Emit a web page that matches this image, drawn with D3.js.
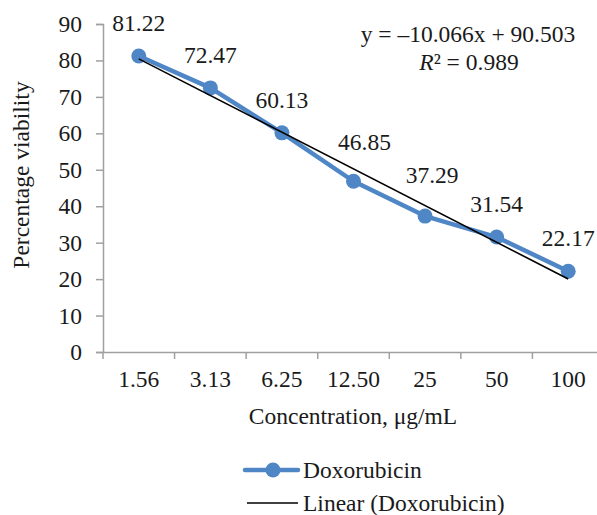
<!DOCTYPE html>
<html>
<head>
<meta charset="utf-8">
<script src="https://cdn.jsdelivr.net/npm/d3@7"></script>
<style>
  html, body { margin: 0; padding: 0; background: #fff; }
  svg text { font-family: "Liberation Serif", "Times New Roman", serif; }
</style>
</head>
<body>
<svg id="chart" width="597" height="515"></svg>
<script>
// Cell viability of Doxorubicin across concentrations
const concentrations = ["1.56", "3.13", "6.25", "12.50", "25", "50", "100"];
const viability = [81.22, 72.47, 60.13, 46.85, 37.29, 31.54, 22.17];
const yTicks = [0, 10, 20, 30, 40, 50, 60, 70, 80, 90];
const trendSlope = -10.066;
const trendIntercept = 90.503;
const rSquared = 0.989;

const blue = "#4f86c6";
const axisGray = "#a0a0a0";
const textColor = "#1a1a1a";
const fontSize = 23.5;
const serif = "'Liberation Serif', 'Times New Roman', serif";

const svg = d3.select("#chart");
const plot = { left: 103, right: 604, top: 24, bottom: 352 };

const x = d3.scaleBand().domain(concentrations).range([plot.left, plot.right]);
const y = d3.scaleLinear().domain([0, 90]).range([plot.bottom, plot.top]);
const cx = c => x(c) + x.bandwidth() / 2;

const styleText = sel => sel
  .style("font-family", serif)
  .style("font-size", fontSize + "px")
  .attr("fill", textColor);

// Y axis
const yAxis = svg.append("g")
  .attr("transform", `translate(${plot.left},0)`)
  .call(d3.axisLeft(y).tickValues(yTicks).tickSize(7).tickPadding(14));
yAxis.select(".domain").attr("stroke", axisGray).attr("stroke-width", 1.5);
yAxis.selectAll(".tick line").attr("stroke", axisGray).attr("stroke-width", 1.5);
yAxis.selectAll(".tick text").call(styleText);

// X axis: ticks sit on category boundaries
const xAxis = svg.append("g")
  .attr("transform", `translate(0,${plot.bottom})`)
  .call(d3.axisBottom(x).tickSize(0).tickSizeOuter(0).tickPadding(18));
xAxis.select(".domain").attr("stroke", axisGray).attr("stroke-width", 1.5);
xAxis.selectAll(".tick text").call(styleText);
xAxis.selectAll(".boundary")
  .data(concentrations)
  .join("line")
  .attr("class", "boundary")
  .attr("x1", d => x(d)).attr("x2", d => x(d))
  .attr("y1", 0).attr("y2", 7)
  .attr("stroke", axisGray).attr("stroke-width", 1.5);

// Axis titles
svg.append("text")
  .attr("x", 353)
  .attr("y", 424)
  .attr("text-anchor", "middle")
  .call(styleText)
  .text("Concentration, μg/mL");

svg.append("text")
  .attr("transform", "translate(29,175) rotate(-90)")
  .attr("text-anchor", "middle")
  .call(styleText)
  .text("Percentage viability");

// Data series
const points = concentrations.map((c, i) => ({ c, v: viability[i], i }));

svg.append("path")
  .datum(points)
  .attr("fill", "none")
  .attr("stroke", blue)
  .attr("stroke-width", 4.5)
  .attr("stroke-linejoin", "round")
  .attr("d", d3.line().x(d => cx(d.c)).y(d => y(d.v)));

svg.selectAll(".marker")
  .data(points)
  .join("circle")
  .attr("class", "marker")
  .attr("cx", d => cx(d.c))
  .attr("cy", d => y(d.v))
  .attr("r", 7.5)
  .attr("fill", blue);

// Linear trendline, x = 1..n in category order
const first = concentrations[0], last = concentrations[concentrations.length - 1];
svg.append("line")
  .attr("x1", cx(first)).attr("y1", y(trendSlope * 1 + trendIntercept))
  .attr("x2", cx(last)).attr("y2", y(trendSlope * concentrations.length + trendIntercept))
  .attr("stroke", "#000").attr("stroke-width", 1.6);

// Value labels above each point
const labelNudge = { 3: [11, 6], 4: [7, 8] };
svg.selectAll(".value")
  .data(points)
  .join("text")
  .attr("class", "value")
  .attr("x", d => cx(d.c) + (labelNudge[d.i] ? labelNudge[d.i][0] : 0))
  .attr("y", d => y(d.v) - 25 - (labelNudge[d.i] ? labelNudge[d.i][1] : 0))
  .attr("text-anchor", "middle")
  .call(styleText)
  .text(d => d.v.toFixed(2));

// Trendline equation
svg.append("text")
  .attr("x", 468).attr("y", 42)
  .attr("text-anchor", "middle")
  .call(styleText)
  .text(`y = –${Math.abs(trendSlope).toFixed(3)}x + ${trendIntercept.toFixed(3)}`);

const r2 = svg.append("text")
  .attr("x", 469).attr("y", 70)
  .attr("text-anchor", "middle")
  .call(styleText);
r2.append("tspan").style("font-style", "italic").text("R");
r2.append("tspan").text(`² = ${rSquared.toFixed(3)}`);

// Legend
const legend = svg.append("g");
legend.append("line")
  .attr("x1", 245).attr("x2", 298).attr("y1", 470).attr("y2", 470)
  .attr("stroke", blue).attr("stroke-width", 4.5).attr("stroke-linecap", "round");
legend.append("circle")
  .attr("cx", 273).attr("cy", 470).attr("r", 7.5).attr("fill", blue);
legend.append("text")
  .attr("x", 303).attr("y", 478)
  .call(styleText)
  .text("Doxorubicin");
legend.append("line")
  .attr("x1", 247).attr("x2", 298).attr("y1", 503).attr("y2", 503)
  .attr("stroke", "#000").attr("stroke-width", 1.6);
legend.append("text")
  .attr("x", 303).attr("y", 511)
  .call(styleText)
  .text("Linear (Doxorubicin)");
</script>
</body>
</html>
